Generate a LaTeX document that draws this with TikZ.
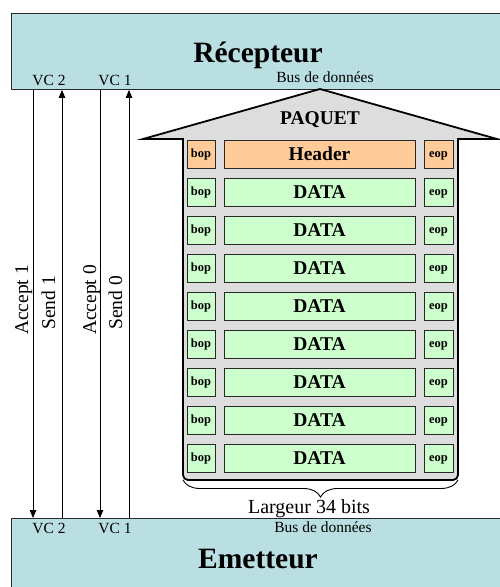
\documentclass[tikz,border=0pt]{standalone}
\usepackage{fontspec}
\setmainfont{Liberation Serif}
\usetikzlibrary{arrows.meta,decorations.pathreplacing}
\definecolor{busteal}{RGB}{186,223,227}
\definecolor{pkgray}{RGB}{221,221,221}
\definecolor{hdrorange}{RGB}{255,204,153}
\definecolor{datagreen}{RGB}{204,255,204}
\definecolor{edgegray}{RGB}{40,40,40}
\newcommand\fsz[1]{\fontsize{#1}{#1}\selectfont}
\begin{document}
\begin{tikzpicture}[x=1pt,y=-1pt,
  unitbox/.style={draw=edgegray, line width=0.9pt, fill=busteal, anchor=north west, inner sep=0pt},
  bigtitle/.style={font=\fsz{29.5}\bfseries, anchor=base, inner sep=0pt},
  smalllab/.style={font=\fsz{15.5}, anchor=base, inner sep=0pt},
  sidelab/.style={font=\fsz{19.5}, rotate=90, anchor=base, inner sep=0pt},
  cell/.style={draw=edgegray, line width=0.9pt, inner sep=0pt, minimum height=28},
  sidecell/.style={cell, font=\fsz{12.5}\bfseries, text height=9pt, text depth=2.5pt},
  maincell/.style={cell, font=\fsz{19.5}\bfseries, minimum width=191, text height=13pt, text depth=0pt},
  sig/.style={line width=0.8pt, -{Triangle[length=8pt,width=6.5pt]}},
  housestyle/.style={draw=black, line width=1.8pt, fill=pkgray, line join=miter}
]
\useasboundingbox (0,0) rectangle (499,587);
% units
\node[unitbox, minimum width=520, minimum height=76] (rec) at (11,13) {};
\node[unitbox, minimum width=520, minimum height=90] (emt) at (11,518) {};
\node[bigtitle] (rectitle) at (258,62) {Récepteur};
\node[bigtitle] (emttitle) at (258,568) {Emetteur};
\node[smalllab] (rvc2) at (49,85) {VC 2};
\node[smalllab] (rvc1) at (115,85) {VC 1};
\node[smalllab] (rbus) at (325,82) {Bus de données};
\node[smalllab] (evc2) at (49,533) {VC 2};
\node[smalllab] (evc1) at (115,533) {VC 1};
\node[smalllab] (ebus) at (323,532) {Bus de données};
% signal lines
\coordinate (xa1) at (33,0);
\coordinate (xs1) at (62,0);
\coordinate (xa0) at (100,0);
\coordinate (xs0) at (129,0);
\draw[sig] (rec.south -| xa1) -- (emt.north -| xa1);
\draw[sig] (emt.north -| xs1) -- (rec.south -| xs1);
\draw[sig] (rec.south -| xa0) -- (emt.north -| xa0);
\draw[sig] (emt.north -| xs0) -- (rec.south -| xs0);
\node[sidelab] (la1) at (28,300) {Accept 1};
\node[sidelab] (ls1) at (55,303) {Send 1};
\node[sidelab] (la0) at (96,300) {Accept 0};
\node[sidelab] (ls0) at (122,303) {Send 0};
% packet house
\coordinate (roofl) at (143,139);
\coordinate (apex) at (320,89);
\coordinate (roofr) at (497,139);
\coordinate (bodytr) at (458,139);
\coordinate (bodybr) at (458,480);
\coordinate (bodybl) at (183,480);
\coordinate (bodytl) at (183,139);
\draw[housestyle] (roofl) -- (apex) -- (roofr) -- (bodytr) [rounded corners=5pt] -- (bodybr) -- (bodybl) [sharp corners] -- (bodytl) -- cycle;
\node[font=\fsz{19.5}\bfseries, anchor=base, inner sep=0pt] (paquet) at (320,124) {PAQUET};
% rows
\foreach \i/\lab/\col in {0/Header/hdrorange,1/DATA/datagreen,2/DATA/datagreen,3/DATA/datagreen,4/DATA/datagreen,5/DATA/datagreen,6/DATA/datagreen,7/DATA/datagreen,8/DATA/datagreen}{
  \node[sidecell, fill=\col, minimum width=28] (bop\i) at (201,154+38*\i) {bop};
  \node[maincell, fill=\col] (data\i) at (319.5,154+38*\i) {\lab};
  \node[sidecell, fill=\col, minimum width=29] (eop\i) at (438.5,154+38*\i) {eop};
}
% brace
\draw[line width=0.9pt, decorate, decoration={brace, amplitude=17pt, mirror}] (bodybl) -- (bodybr);
\node[font=\fsz{20}, anchor=base, inner sep=0pt] (largeur) at (309,513) {Largeur 34 bits};
\end{tikzpicture}
\end{document}
